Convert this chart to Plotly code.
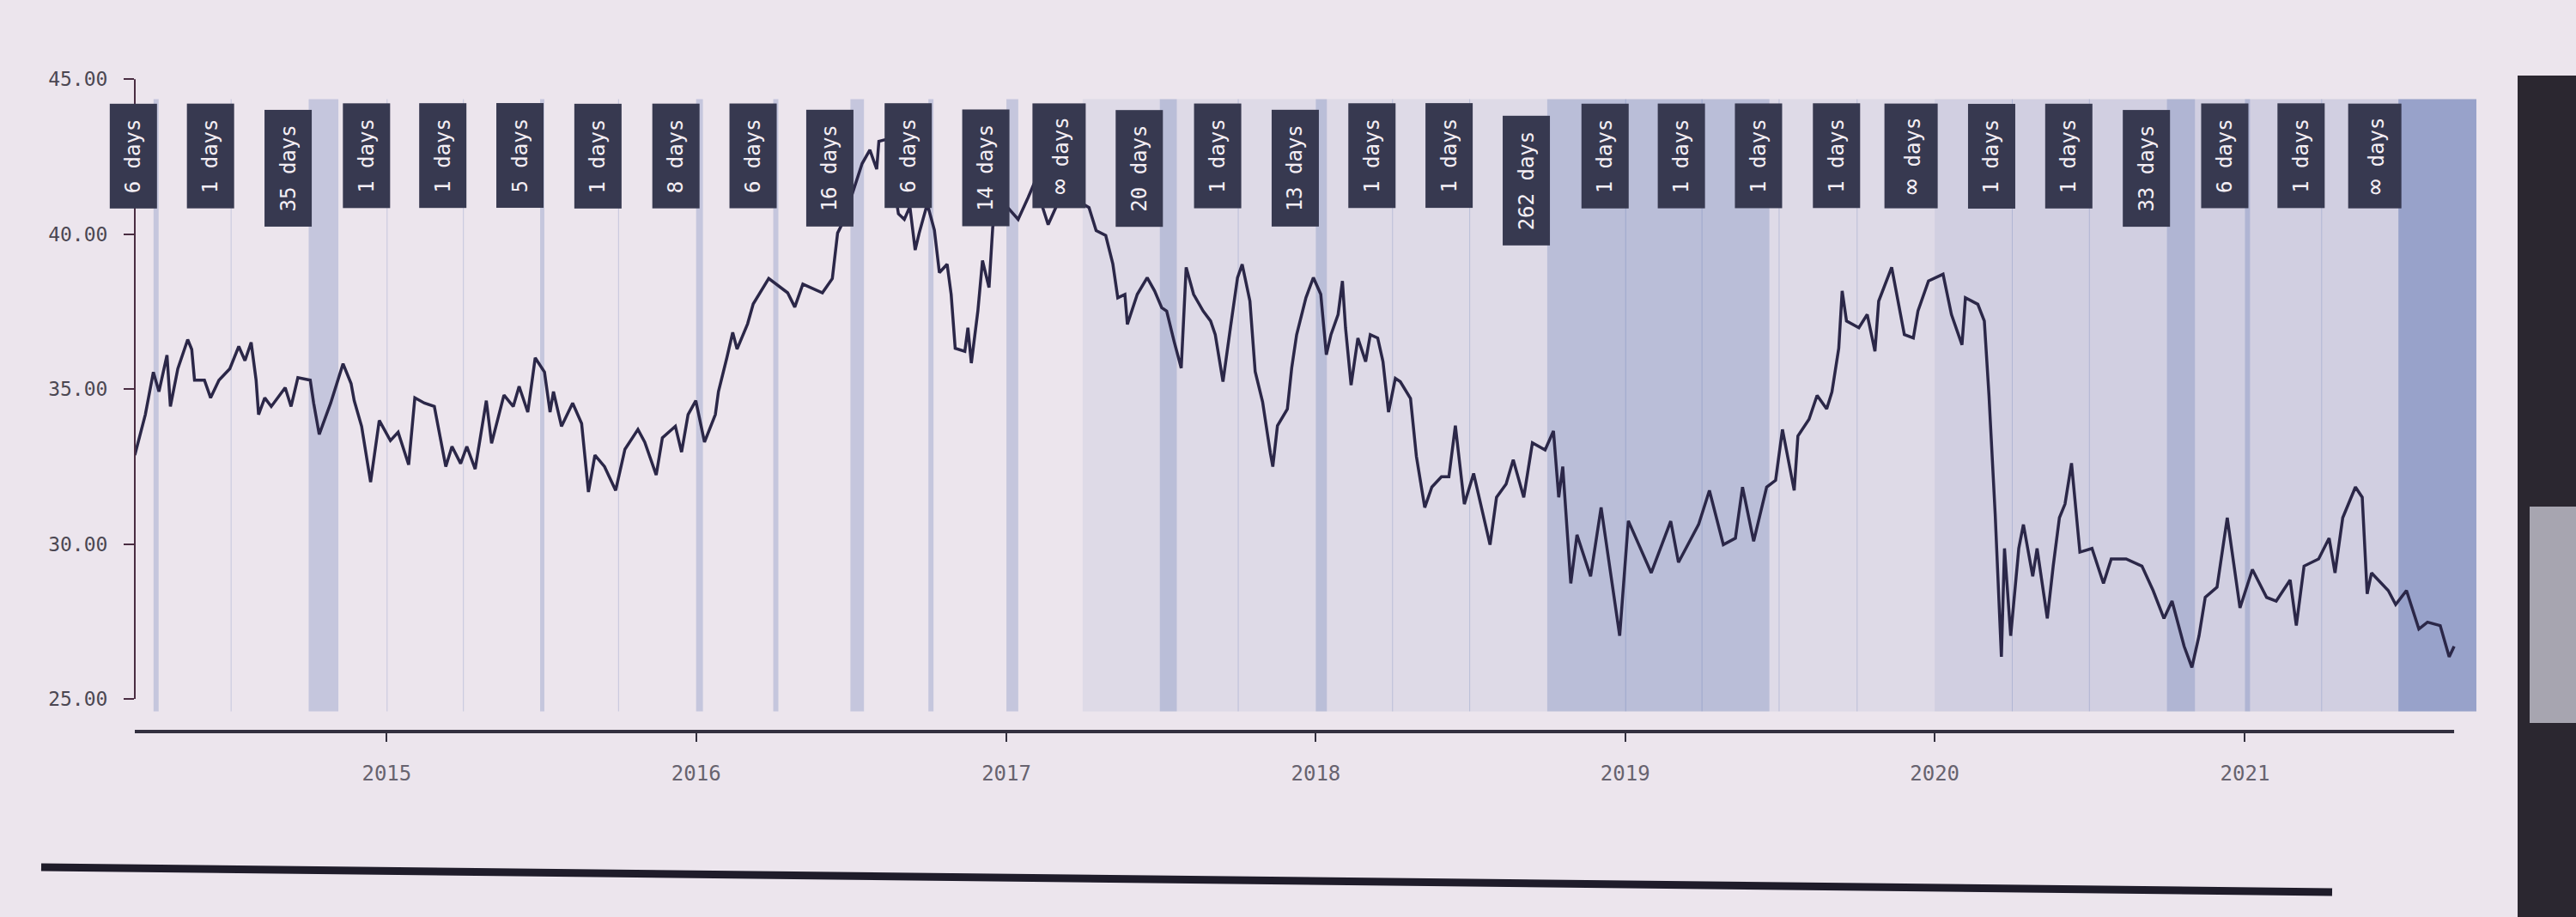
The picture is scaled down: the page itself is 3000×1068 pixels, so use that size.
import plotly.graph_objects as go
from datetime import datetime

# ---------------- data ----------------
price_year = [
    2014.186, 2014.220, 2014.246, 2014.264, 2014.290, 2014.301, 2014.325, 2014.357, 2014.370, 2014.379,
    2014.411, 2014.431, 2014.458, 2014.493, 2014.522, 2014.542, 2014.562, 2014.578, 2014.586, 2014.606,
    2014.627, 2014.672, 2014.691, 2014.713, 2014.753, 2014.764, 2014.782, 2014.819, 2014.859, 2014.885,
    2014.895, 2014.919, 2014.948, 2014.976, 2015.012, 2015.037, 2015.071, 2015.091, 2015.122, 2015.154,
    2015.191, 2015.211, 2015.239, 2015.259, 2015.286, 2015.322, 2015.339, 2015.379, 2015.409, 2015.428,
    2015.456, 2015.480, 2015.510, 2015.528, 2015.539, 2015.565, 2015.601, 2015.630, 2015.652, 2015.673,
    2015.704, 2015.740, 2015.770, 2015.812, 2015.834, 2015.871, 2015.891, 2015.933, 2015.953, 2015.974,
    2015.999, 2016.027, 2016.062, 2016.072, 2016.099, 2016.118, 2016.132, 2016.166, 2016.184, 2016.217,
    2016.234, 2016.295, 2016.318, 2016.344, 2016.407, 2016.439, 2016.456, 2016.474, 2016.535, 2016.560,
    2016.582, 2016.589, 2016.621, 2016.627, 2016.642, 2016.652, 2016.671, 2016.689, 2016.706, 2016.719,
    2016.745, 2016.768, 2016.784, 2016.809, 2016.822, 2016.835, 2016.866, 2016.876, 2016.887, 2016.908,
    2016.923, 2016.944, 2016.956, 2016.976, 2017.038, 2017.070, 2017.094, 2017.118, 2017.135, 2017.165,
    2017.212, 2017.267, 2017.290, 2017.321, 2017.344, 2017.360, 2017.383, 2017.391, 2017.423, 2017.455,
    2017.479, 2017.502, 2017.518, 2017.542, 2017.565, 2017.581, 2017.605, 2017.636, 2017.660, 2017.675,
    2017.700, 2017.724, 2017.747, 2017.762, 2017.787, 2017.804, 2017.828, 2017.853, 2017.861, 2017.876,
    2017.908, 2017.922, 2017.938, 2017.968, 2017.992, 2018.016, 2018.034, 2018.049, 2018.072, 2018.086,
    2018.096, 2018.114, 2018.136, 2018.161, 2018.176, 2018.200, 2018.217, 2018.235, 2018.257, 2018.273,
    2018.306, 2018.325, 2018.352, 2018.375, 2018.406, 2018.430, 2018.451, 2018.480, 2018.510, 2018.563,
    2018.584, 2018.615, 2018.638, 2018.672, 2018.700, 2018.741, 2018.768, 2018.785, 2018.798, 2018.824,
    2018.844, 2018.888, 2018.922, 2018.982, 2019.010, 2019.084, 2019.147, 2019.172, 2019.237, 2019.272,
    2019.317, 2019.356, 2019.379, 2019.415, 2019.457, 2019.486, 2019.508, 2019.546, 2019.558, 2019.594,
    2019.620, 2019.651, 2019.668, 2019.690, 2019.701, 2019.715, 2019.755, 2019.782, 2019.807, 2019.819,
    2019.861, 2019.902, 2019.931, 2019.946, 2019.980, 2020.027, 2020.054, 2020.088, 2020.099, 2020.139,
    2020.160, 2020.175, 2020.195, 2020.215, 2020.225, 2020.245, 2020.271, 2020.286, 2020.316, 2020.330,
    2020.363, 2020.382, 2020.402, 2020.420, 2020.441, 2020.468, 2020.507, 2020.544, 2020.569, 2020.617,
    2020.668, 2020.704, 2020.739, 2020.765, 2020.804, 2020.829, 2020.852, 2020.872, 2020.910, 2020.943,
    2020.984, 2021.024, 2021.070, 2021.101, 2021.146, 2021.166, 2021.191, 2021.238, 2021.272, 2021.291,
    2021.316, 2021.357, 2021.379, 2021.395, 2021.409, 2021.463, 2021.487, 2021.522, 2021.562, 2021.590,
    2021.631, 2021.660, 2021.676,
]
price_value = [
    32.87, 34.18, 35.55, 34.92, 36.10, 34.44, 35.66, 36.60, 36.28, 35.29,
    35.29, 34.72, 35.29, 35.66, 36.38, 35.92, 36.51, 35.29, 34.18, 34.72,
    34.44, 35.05, 34.44, 35.37, 35.29, 34.55, 33.54, 34.55, 35.82, 35.18,
    34.63, 33.80, 32.00, 33.99, 33.34, 33.61, 32.56, 34.72, 34.55, 34.44,
    32.50, 33.15, 32.60, 33.15, 32.42, 34.63, 33.25, 34.81, 34.44, 35.09,
    34.26, 36.01, 35.55, 34.26, 34.92, 33.80, 34.55, 33.89, 31.68, 32.87,
    32.50, 31.73, 33.06, 33.70, 33.29, 32.23, 33.43, 33.80, 32.97, 34.18,
    34.63, 33.29, 34.18, 34.92, 36.01, 36.83, 36.29, 37.11, 37.75, 38.30,
    38.57, 38.11, 37.65, 38.39, 38.11, 38.57, 40.04, 40.40, 42.28, 42.72,
    42.10, 43.00, 43.08, 42.64, 41.30, 40.66, 40.48, 40.89, 39.49, 40.04,
    40.98, 40.13, 38.76, 39.03, 38.06, 36.32, 36.22, 36.98, 35.84, 37.52,
    39.15, 38.28, 40.23, 41.18, 40.48, 41.18, 41.74, 40.84, 40.31, 40.98,
    41.18, 40.86, 40.12, 39.96, 39.04, 37.95, 38.06, 37.09, 38.06, 38.60,
    38.17, 37.63, 37.52, 36.54, 35.68, 38.93, 38.06, 37.52, 37.20, 36.76,
    35.24, 36.98, 38.60, 39.03, 37.84, 35.57, 34.59, 32.94, 32.50, 33.82,
    34.36, 35.68, 36.76, 37.95, 38.60, 38.06, 36.11, 36.76, 37.41, 38.49,
    36.98, 35.13, 36.65, 35.89, 36.76, 36.65, 35.89, 34.26, 35.35, 35.24,
    34.70, 32.83, 31.18, 31.84, 32.17, 32.17, 33.82, 31.29, 32.28, 29.98,
    31.51, 31.94, 32.72, 31.51, 33.27, 33.04, 33.65, 31.51, 32.50, 28.73,
    30.30, 28.96, 31.18, 27.04, 30.75, 29.07, 30.74, 29.41, 30.63, 31.73,
    29.98, 30.19, 31.84, 30.09, 31.84, 32.06, 33.70, 31.73, 33.49, 34.03,
    34.80, 34.36, 34.91, 36.32, 38.17, 37.20, 36.98, 37.41, 36.22, 37.84,
    38.93, 36.76, 36.65, 37.52, 38.49, 38.71, 37.41, 36.43, 37.95, 37.74,
    37.20, 34.80, 30.96, 26.36, 29.86, 27.04, 29.86, 30.63, 28.96, 29.86,
    27.60, 29.29, 30.85, 31.29, 32.61, 29.74, 29.86, 28.73, 29.52, 29.52,
    29.29, 28.50, 27.60, 28.16, 26.70, 26.02, 27.04, 28.28, 28.61, 30.85,
    27.94, 29.18, 28.28, 28.16, 28.84, 27.37, 29.29, 29.52, 30.19, 29.07,
    30.85, 31.84, 31.51, 28.39, 29.07, 28.50, 28.05, 28.50, 27.26, 27.48,
    27.37, 26.36, 26.70,
]

quarter_start = [
    "2014-04-01", "2014-07-01", "2014-10-01", "2015-01-01", "2015-04-01", "2015-07-01",
    "2015-10-01", "2016-01-01", "2016-04-01", "2016-07-01", "2016-10-01", "2017-01-01",
    "2017-04-01", "2017-07-01", "2017-10-01", "2018-01-01", "2018-04-01", "2018-07-01",
    "2018-10-01", "2019-01-01", "2019-04-01", "2019-07-01", "2019-10-01", "2020-01-01",
    "2020-04-01", "2020-07-01", "2020-10-01", "2021-01-01", "2021-04-01", "2021-07-01",
]
recovery_days = [6, 1, 35, 1, 1, 5, 1, 8, 6, 16, 6, 14, None, 20, 1, 13, 1, 1, 262,
                 1, 1, 1, 1, None, 1, 1, 33, 6, 1, None]
open_end = "2021-10-01"      # where the unrecovered ("∞") periods are drawn to

y_ticks = [25, 30, 35, 40, 45]
year_ticks = ["2015-01-01", "2016-01-01", "2017-01-01", "2018-01-01",
              "2019-01-01", "2020-01-01", "2021-01-01"]
year_labels = ["2015", "2016", "2017", "2018", "2019", "2020", "2021"]


# ---------------- helpers ----------------
def year_to_date(y):
    yr = int(y)
    a, b = datetime(yr, 1, 1), datetime(yr + 1, 1, 1)
    return a + (b - a) * (y - yr)


dates = [year_to_date(v) for v in price_year]

W, H = 3000, 1068
ML, MR, MT, MB = 157, 116, 92, 216
PW, PH = W - ML - MR, H - MT - MB

BAND_LO, BAND_HI = 24.6, 44.36
LABEL_Y = 42.53
FONT_MONO = "DejaVu Sans Mono"
LABEL_SIZE = 24
CHAR_W = 0.602 * LABEL_SIZE

BAND_RGB = "60,90,165"
ALPHA_FINITE, ALPHA_OPEN, ALPHA_CURRENT = 0.22, 0.08, 0.38

fig = go.Figure()
fig.add_trace(go.Scatter(
    x=dates, y=price_value, mode="lines",
    line=dict(color="#2b2748", width=3.5),
    hoverinfo="skip", showlegend=False,
))

shapes = []
annotations = []
last_i = len(quarter_start) - 1
for i, (qs, d) in enumerate(zip(quarter_start, recovery_days)):
    start = datetime.strptime(qs, "%Y-%m-%d")
    if d is None:
        end = datetime.strptime(open_end, "%Y-%m-%d")
        text = '<span style="font-size:30px">∞</span> days'
        n = 6
        alpha = ALPHA_CURRENT if i == last_i else ALPHA_OPEN
    else:
        end = datetime.fromordinal(start.toordinal() + d)
        text = f"{d} days"
        n = len(text)
        alpha = ALPHA_FINITE
    shapes.append(dict(
        type="rect", xref="x", yref="y", x0=start, x1=end, y0=BAND_LO, y1=BAND_HI,
        fillcolor=f"rgba({BAND_RGB},{alpha})", line=dict(width=0), layer="below",
    ))
    annotations.append(dict(
        x=start, y=LABEL_Y, xref="x", yref="y", xanchor="right", yanchor="middle",
        xshift=4, yshift=-(n - 6) * CHAR_W,
        text=text, textangle=-90, showarrow=False,
        width=n * CHAR_W + 8,
        font=dict(family=FONT_MONO, size=LABEL_SIZE, color="#f4eef4"),
        bgcolor="#373950", borderpad=13,
    ))

# axis lines (x axis spans the data; y axis spans 25..45)
shapes.append(dict(type="line", xref="x", yref="paper", x0=dates[0], x1=dates[-1],
                   y0=0, y1=0, line=dict(color="#33303f", width=4)))
shapes.append(dict(type="line", xref="paper", yref="y", x0=0, x1=0,
                   y0=y_ticks[0], y1=y_ticks[-1], line=dict(color="#4a2d42", width=2)))


def px_x(p):
    return (p - ML) / PW


def px_y(p):
    return (H - MB - p) / PH


# photo surroundings: dark bezel strip on the right, thick rule at the bottom
shapes.append(dict(type="rect", xref="paper", yref="paper", x0=px_x(2932), x1=px_x(3005),
                   y0=px_y(1070), y1=px_y(88), fillcolor="#2b2730", line=dict(width=0),
                   layer="above"))
shapes.append(dict(type="rect", xref="paper", yref="paper", x0=px_x(2946), x1=px_x(3005),
                   y0=px_y(842), y1=px_y(590), fillcolor="#a7a5b0", line=dict(width=0),
                   layer="above"))
shapes.append(dict(type="line", xref="paper", yref="paper", x0=px_x(48), x1=px_x(2716),
                   y0=px_y(1010), y1=px_y(1039), line=dict(color="#1f1c2a", width=9),
                   layer="above"))

fig.update_layout(
    width=W, height=H,
    margin=dict(l=ML, r=MR, t=MT, b=MB),
    paper_bgcolor="#ece5ed", plot_bgcolor="#ece5ed",
    showlegend=False,
    shapes=shapes, annotations=annotations,
    xaxis=dict(
        range=[dates[0], datetime.strptime(open_end, "%Y-%m-%d")],
        tickmode="array", tickvals=year_ticks, ticktext=year_labels,
        ticks="outside", ticklen=11, tickwidth=2, tickcolor="#33303f",
        showline=False, showgrid=False, zeroline=False,
        tickfont=dict(family=FONT_MONO, size=24, color="#67636f"),
        ticklabelstandoff=16,
    ),
    yaxis=dict(
        range=[23.95, 45.01],
        tickmode="array", tickvals=y_ticks, ticktext=[f"{v:.2f}" for v in y_ticks],
        ticks="outside", ticklen=12, tickwidth=2, tickcolor="#4a2d42",
        showline=False, showgrid=False, zeroline=False,
        tickfont=dict(family=FONT_MONO, size=23, color="#4b4752"),
        ticklabelstandoff=14,
    ),
)

fig.write_html("out.html")
